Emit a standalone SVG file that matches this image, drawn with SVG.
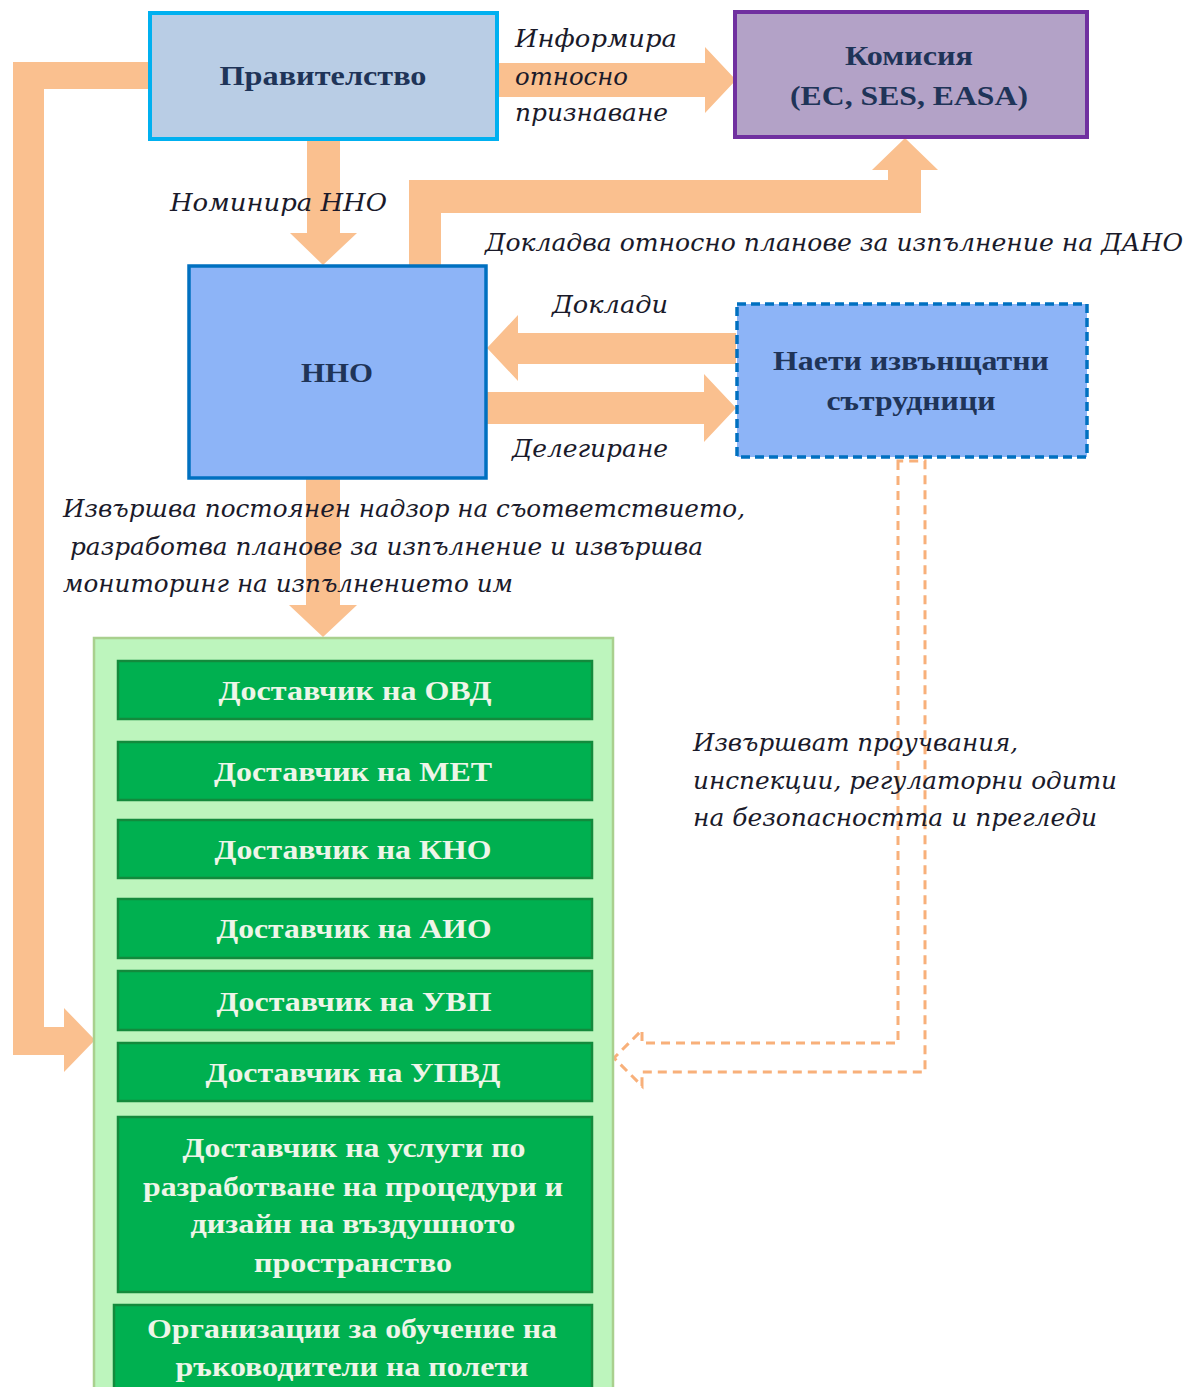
<svg xmlns="http://www.w3.org/2000/svg" width="1192" height="1387" viewBox="0 0 1192 1387">
<style>
.arr{fill:#fac08f;stroke:none}
.dash{fill:none;stroke:#f8b07a;stroke-width:3;stroke-dasharray:9 6}
.lbl{font-family:"DejaVu Serif","Liberation Serif",serif;font-style:italic;font-size:25px;fill:#1a1a2a}
.nt{font-family:"Liberation Serif","DejaVu Serif",serif;font-weight:bold;font-size:28px;fill:#1f3458;text-anchor:middle}
.gt{font-family:"Liberation Serif","DejaVu Serif",serif;font-weight:bold;font-size:28px;fill:#eef5e8;text-anchor:middle}
.gbox{fill:#00b050;stroke:#138a3c;stroke-width:2.5}
</style>
<rect width="1192" height="1387" fill="#ffffff"/>
<g id="connectors">
<polygon class="arr" points="150,62 13,62 13,1055 64,1055 64,1072 95,1040 64,1008 64,1027 44,1027 44,89 150,89"/>
<polygon class="arr" points="497,63 705,63 705,47 736,80 705,113 705,97 497,97"/>
<polygon class="arr" points="307,139 340,139 340,233 357,233 323,265 290,233 307,233"/>
<polygon class="arr" points="409,266 409,180 888,180 888,170 872,170 905,138 938,170 921,170 921,213 441,213 441,266"/>
<polygon class="arr" points="736,333 518,333 518,315 487,348 518,381 518,364 736,364"/>
<polygon class="arr" points="487,392 704,392 704,374 736,408 704,442 704,424 487,424"/>
<polygon class="arr" points="306,478 340,478 340,605 357,605 323,637 289,605 306,605"/>
<path class="dash" d="M898,461 L898,1043 L642,1043 L642,1030 L614,1058 L642,1086 L642,1072 L925,1072 L925,461 Z"/>
</g>
<g id="labels">
<text class="lbl" x="515" y="47" textLength="162" lengthAdjust="spacingAndGlyphs">Информира</text>
<text class="lbl" x="515" y="85" textLength="113" lengthAdjust="spacingAndGlyphs">относно</text>
<text class="lbl" x="515" y="121" textLength="153" lengthAdjust="spacingAndGlyphs">признаване</text>
<text class="lbl" x="170" y="211" textLength="217" lengthAdjust="spacingAndGlyphs">Номинира ННО</text>
<text class="lbl" x="485" y="251" textLength="698" lengthAdjust="spacingAndGlyphs">Докладва относно  планове за изпълнение на ДАНО</text>
<text class="lbl" x="552" y="313" textLength="116" lengthAdjust="spacingAndGlyphs">Доклади</text>
<text class="lbl" x="512" y="457" textLength="156" lengthAdjust="spacingAndGlyphs">Делегиране</text>
<text class="lbl" x="63" y="517" textLength="682" lengthAdjust="spacingAndGlyphs">Извършва постоянен  надзор на съответствието,</text>
<text class="lbl" x="70" y="555" textLength="633" lengthAdjust="spacingAndGlyphs">разработва планове за изпълнение и извършва</text>
<text class="lbl" x="63" y="592" textLength="450" lengthAdjust="spacingAndGlyphs">мониторинг на изпълнението им</text>
<text class="lbl" x="693" y="751" textLength="325" lengthAdjust="spacingAndGlyphs">Извършват проучвания,</text>
<text class="lbl" x="693" y="789" textLength="424" lengthAdjust="spacingAndGlyphs">инспекции, регулаторни одити</text>
<text class="lbl" x="693" y="826" textLength="404" lengthAdjust="spacingAndGlyphs">на безопасността и прегледи</text>
</g>
<g id="pravitelstvo">
<rect x="150" y="13" width="347" height="126" fill="#b9cde5" stroke="#00b0f0" stroke-width="4"/>
<text class="nt" x="323" y="85" textLength="207" lengthAdjust="spacingAndGlyphs">Правителство</text>
</g>
<g id="komisiya">
<rect x="735" y="12" width="352" height="125" fill="#b3a2c7" stroke="#7030a0" stroke-width="4"/>
<text class="nt" x="909" y="65" textLength="128" lengthAdjust="spacingAndGlyphs">Комисия</text>
<text class="nt" x="909" y="105" textLength="238" lengthAdjust="spacingAndGlyphs">(EC, SES, EASA)</text>
</g>
<g id="nno">
<rect x="189" y="266" width="297" height="212" fill="#8db4f7" stroke="#0070c0" stroke-width="3.5"/>
<text class="nt" x="337" y="382" textLength="72" lengthAdjust="spacingAndGlyphs">ННО</text>
</g>
<g id="naeti">
<rect x="737" y="304" width="350" height="153" fill="#8db4f7" stroke="#0070c0" stroke-width="3.5" stroke-dasharray="9 5"/>
<text class="nt" x="911" y="370" textLength="276" lengthAdjust="spacingAndGlyphs">Наети извънщатни</text>
<text class="nt" x="911" y="410" textLength="169" lengthAdjust="spacingAndGlyphs">сътрудници</text>
</g>
<g id="providers">
<rect x="94" y="638" width="519" height="760" fill="#bdf5bd" stroke="#a9d08e" stroke-width="2.5"/>
</g>
<g id="ovd">
<rect class="gbox" x="118" y="661" width="474" height="58"/>
<text class="gt" x="355" y="700" textLength="273" lengthAdjust="spacingAndGlyphs">Доставчик на ОВД</text>
</g>
<g id="met">
<rect class="gbox" x="118" y="742" width="474" height="58"/>
<text class="gt" x="353" y="781" textLength="278" lengthAdjust="spacingAndGlyphs">Доставчик на МЕТ</text>
</g>
<g id="kno">
<rect class="gbox" x="118" y="820" width="474" height="58"/>
<text class="gt" x="353" y="859" textLength="277" lengthAdjust="spacingAndGlyphs">Доставчик на КНО</text>
</g>
<g id="aio">
<rect class="gbox" x="118" y="899" width="474" height="59"/>
<text class="gt" x="354" y="938" textLength="275" lengthAdjust="spacingAndGlyphs">Доставчик на АИО</text>
</g>
<g id="uvp">
<rect class="gbox" x="118" y="971" width="474" height="59"/>
<text class="gt" x="354" y="1011" textLength="275" lengthAdjust="spacingAndGlyphs">Доставчик на УВП</text>
</g>
<g id="upvd">
<rect class="gbox" x="118" y="1043" width="474" height="58"/>
<text class="gt" x="353" y="1082" textLength="295" lengthAdjust="spacingAndGlyphs">Доставчик на УПВД</text>
</g>
<g id="procedures">
<rect class="gbox" x="118" y="1117" width="474" height="175"/>
<text class="gt" x="354" y="1157" textLength="343" lengthAdjust="spacingAndGlyphs">Доставчик на услуги по</text>
<text class="gt" x="353" y="1196" textLength="420" lengthAdjust="spacingAndGlyphs">разработване на процедури и</text>
<text class="gt" x="353" y="1233" textLength="325" lengthAdjust="spacingAndGlyphs">дизайн на въздушното</text>
<text class="gt" x="353" y="1272" textLength="198" lengthAdjust="spacingAndGlyphs">пространство</text>
</g>
<g id="training">
<rect class="gbox" x="114" y="1305" width="478" height="95"/>
<text class="gt" x="352" y="1338" textLength="410" lengthAdjust="spacingAndGlyphs">Организации за обучение на</text>
<text class="gt" x="352" y="1376" textLength="353" lengthAdjust="spacingAndGlyphs">ръководители на полети</text>
</g>
</svg>
